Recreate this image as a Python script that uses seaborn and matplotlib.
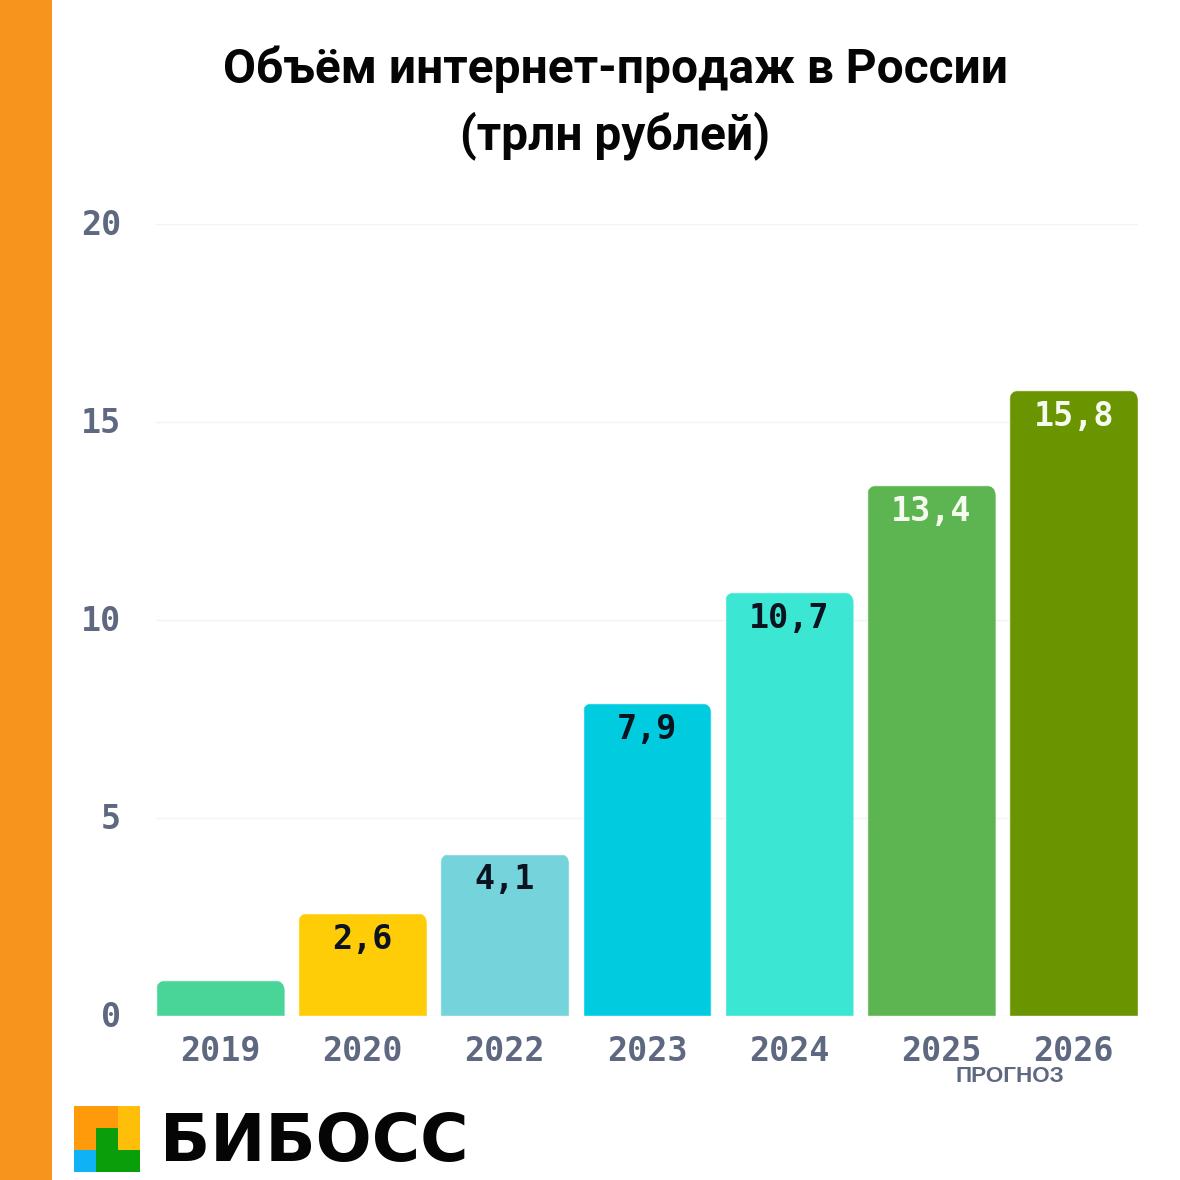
import matplotlib
matplotlib.use("Agg")
import matplotlib.pyplot as plt
import seaborn as sns
import pandas as pd
from matplotlib.patches import Rectangle, Polygon, FancyBboxPatch
from matplotlib.transforms import ScaledTranslation, IdentityTransform

years = ["2019", "2020", "2022", "2023", "2024", "2025", "2026"]
values = [0.9, 2.6, 4.1, 7.9, 10.7, 13.4, 15.8]
value_labels = ["", "2,6", "4,1", "7,9", "10,7", "13,4", "15,8"]
colors = ["#48D597", "#FFCC08", "#75D3DC", "#00CBDF", "#3BE6D3", "#5CB551", "#6A9400"]
label_colors = ["#000000", "#0B1220", "#0B1220", "#0B1220", "#0B1220", "#F6FBEF", "#F6FBEF"]
yticks = [0, 5, 10, 15, 20]
title = "Объём интернет-продаж в России\n(трлн рублей)"
note = "ПРОГНОЗ"
brand = "БИБОСС"

W = H = 1180
sns.set_theme(style="white")
MONO = "DejaVu Sans Mono"
TICK = "#5E6880"

fig = plt.figure(figsize=(W / 100, H / 100), dpi=100, facecolor="white")
ax = fig.add_axes([156 / W, 1 - 1016 / H, (1138 - 156) / W, (1016 - 224) / H])

df = pd.DataFrame({"year": years, "value": values})
sns.barplot(data=df, x="year", y="value", hue="year", palette=colors, legend=False,
            width=0.905, saturation=1, ax=ax, zorder=3)
ax.set_xlim(-0.4525, 6.4525)
ax.set_ylim(0, 20)
ax.set_xlabel("")
ax.set_ylabel("")
ax.set_yticks(yticks)
ax.grid(axis="y", color="#F2F3F5", linewidth=1)
ax.grid(axis="x", visible=False)
ax.set_axisbelow(True)
for s in ax.spines.values():
    s.set_visible(False)
ax.tick_params(axis="both", length=0, labelsize=24, labelcolor=TICK)
ax.tick_params(axis="x", pad=13.5)
ax.tick_params(axis="y", pad=25)
for lab in ax.get_xticklabels() + ax.get_yticklabels():
    lab.set_fontfamily(MONO)
    lab.set_fontweight("bold")
for lab in ax.get_yticklabels():
    lab.set_transform(lab.get_transform() + ScaledTranslation(0, 2 / 100, fig.dpi_scale_trans))

# 2025 label sits a little right of its bar in the original
xl = ax.get_xticklabels()[5]
xl.set_transform(xl.get_transform() + ScaledTranslation(10 / 100, 0, fig.dpi_scale_trans))

# rounded top corners: clip each bar to a rounded box in pixel space
fig.canvas.draw()
R = 11
for bar, txt, col in zip(ax.patches, value_labels, label_colors):
    (x0, y0), (x1, y1) = ax.transData.transform([(bar.get_x(), 0), (bar.get_x() + bar.get_width(), bar.get_height())])
    clip = FancyBboxPatch((x0 + R, y0 - 40), x1 - x0 - 2 * R, y1 - y0 + 40 - R,
                          boxstyle=f"round,pad={R},rounding_size={R}", transform=IdentityTransform())
    bar.set_clip_path(clip.get_path(), IdentityTransform())
    if txt:
        ax.annotate(txt, (bar.get_x() + bar.get_width() / 2, bar.get_height()), xytext=(0, -26 * 0.72),
                    textcoords="offset points", ha="center", va="center", fontsize=24,
                    fontfamily=MONO, fontweight="bold", color=col, zorder=5)

# title
fig.text(615 / W, 1 - 103 / H, title, ha="center", va="center", fontsize=34.5, fontweight="bold",
         family="Roboto", color="#050505", linespacing=1.47)

# note
fig.text(1010 / W, 1 - 1076 / H, note, ha="center", va="center", fontsize=16.2, fontweight="bold",
         family="Liberation Sans", color=TICK)

# decoration in pixel coordinates of the figure
def px(x, y):
    return (x / W, 1 - y / H)

def rect(x0, y0, x1, y1, c):
    fig.add_artist(Rectangle(px(x0, y1), (x1 - x0) / W, (y1 - y0) / H, transform=fig.transFigure,
                             facecolor=c, edgecolor="none"))

rect(0, 0, 52, H, "#F7941D")
rect(74, 1106, 118, 1150, "#FF9A0A")
rect(118, 1106, 140, 1150, "#FFBE0A")
rect(74, 1150, 96, 1172, "#0FB2F5")
fig.add_artist(Polygon([px(96, 1128), px(118, 1128), px(118, 1150), px(140, 1150), px(140, 1172), px(96, 1172)],
                       closed=True, transform=fig.transFigure, facecolor="#0A9E0A", edgecolor="none"))
fig.text(160 / W, 1 - 1143 / H, brand, ha="left", va="center", fontsize=47.5, fontweight="bold",
         family="DejaVu Sans", color="#050505")

fig.savefig("out.png", dpi=100, facecolor="white")
